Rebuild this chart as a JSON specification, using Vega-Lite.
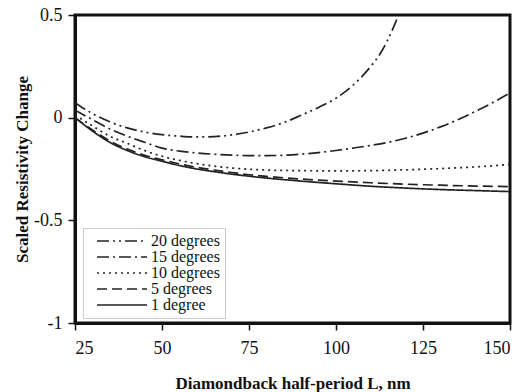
{
  "$schema": "https://vega.github.io/schema/vega-lite/v6.json",
  "width": 435,
  "height": 308,
  "autosize": {"type": "none"},
  "padding": {"left": 75, "top": 15, "right": 15, "bottom": 69},
  "background": "white",
  "config": {
    "view": {"stroke": "#111", "strokeWidth": 3},
    "font": "Liberation Serif"
  },
  "data": {
    "values": [
      {"L": 25, "v": 0.073, "s": "20 degrees"},
      {"L": 30, "v": 0.02, "s": "20 degrees"},
      {"L": 35, "v": -0.02, "s": "20 degrees"},
      {"L": 40, "v": -0.05, "s": "20 degrees"},
      {"L": 45, "v": -0.07, "s": "20 degrees"},
      {"L": 50, "v": -0.083, "s": "20 degrees"},
      {"L": 55, "v": -0.09, "s": "20 degrees"},
      {"L": 60, "v": -0.094, "s": "20 degrees"},
      {"L": 65, "v": -0.092, "s": "20 degrees"},
      {"L": 70, "v": -0.084, "s": "20 degrees"},
      {"L": 75, "v": -0.07, "s": "20 degrees"},
      {"L": 80, "v": -0.05, "s": "20 degrees"},
      {"L": 85, "v": -0.024, "s": "20 degrees"},
      {"L": 90, "v": 0.012, "s": "20 degrees"},
      {"L": 95, "v": 0.05, "s": "20 degrees"},
      {"L": 100, "v": 0.095, "s": "20 degrees"},
      {"L": 105, "v": 0.16, "s": "20 degrees"},
      {"L": 110, "v": 0.25, "s": "20 degrees"},
      {"L": 113, "v": 0.32, "s": "20 degrees"},
      {"L": 116, "v": 0.42, "s": "20 degrees"},
      {"L": 118, "v": 0.5, "s": "20 degrees"},

      {"L": 25, "v": 0.037, "s": "15 degrees"},
      {"L": 30, "v": -0.01, "s": "15 degrees"},
      {"L": 35, "v": -0.055, "s": "15 degrees"},
      {"L": 40, "v": -0.09, "s": "15 degrees"},
      {"L": 45, "v": -0.12, "s": "15 degrees"},
      {"L": 50, "v": -0.148, "s": "15 degrees"},
      {"L": 55, "v": -0.163, "s": "15 degrees"},
      {"L": 60, "v": -0.172, "s": "15 degrees"},
      {"L": 65, "v": -0.178, "s": "15 degrees"},
      {"L": 70, "v": -0.182, "s": "15 degrees"},
      {"L": 75, "v": -0.185, "s": "15 degrees"},
      {"L": 80, "v": -0.185, "s": "15 degrees"},
      {"L": 85, "v": -0.183, "s": "15 degrees"},
      {"L": 90, "v": -0.178, "s": "15 degrees"},
      {"L": 95, "v": -0.17, "s": "15 degrees"},
      {"L": 100, "v": -0.16, "s": "15 degrees"},
      {"L": 105, "v": -0.148, "s": "15 degrees"},
      {"L": 110, "v": -0.135, "s": "15 degrees"},
      {"L": 115, "v": -0.12, "s": "15 degrees"},
      {"L": 120, "v": -0.1, "s": "15 degrees"},
      {"L": 125, "v": -0.075, "s": "15 degrees"},
      {"L": 130, "v": -0.045, "s": "15 degrees"},
      {"L": 135, "v": -0.01, "s": "15 degrees"},
      {"L": 140, "v": 0.03, "s": "15 degrees"},
      {"L": 145, "v": 0.073, "s": "15 degrees"},
      {"L": 150, "v": 0.12, "s": "15 degrees"},

      {"L": 25, "v": 0.013, "s": "10 degrees"},
      {"L": 30, "v": -0.04, "s": "10 degrees"},
      {"L": 35, "v": -0.09, "s": "10 degrees"},
      {"L": 40, "v": -0.125, "s": "10 degrees"},
      {"L": 45, "v": -0.16, "s": "10 degrees"},
      {"L": 50, "v": -0.188, "s": "10 degrees"},
      {"L": 55, "v": -0.208, "s": "10 degrees"},
      {"L": 60, "v": -0.224, "s": "10 degrees"},
      {"L": 65, "v": -0.236, "s": "10 degrees"},
      {"L": 70, "v": -0.245, "s": "10 degrees"},
      {"L": 75, "v": -0.251, "s": "10 degrees"},
      {"L": 80, "v": -0.255, "s": "10 degrees"},
      {"L": 90, "v": -0.258, "s": "10 degrees"},
      {"L": 100, "v": -0.259, "s": "10 degrees"},
      {"L": 110, "v": -0.258, "s": "10 degrees"},
      {"L": 120, "v": -0.254, "s": "10 degrees"},
      {"L": 130, "v": -0.248, "s": "10 degrees"},
      {"L": 140, "v": -0.24, "s": "10 degrees"},
      {"L": 150, "v": -0.228, "s": "10 degrees"},

      {"L": 25, "v": 0.0, "s": "5 degrees"},
      {"L": 30, "v": -0.06, "s": "5 degrees"},
      {"L": 35, "v": -0.113, "s": "5 degrees"},
      {"L": 40, "v": -0.153, "s": "5 degrees"},
      {"L": 45, "v": -0.183, "s": "5 degrees"},
      {"L": 50, "v": -0.205, "s": "5 degrees"},
      {"L": 55, "v": -0.225, "s": "5 degrees"},
      {"L": 60, "v": -0.242, "s": "5 degrees"},
      {"L": 65, "v": -0.255, "s": "5 degrees"},
      {"L": 70, "v": -0.267, "s": "5 degrees"},
      {"L": 75, "v": -0.278, "s": "5 degrees"},
      {"L": 80, "v": -0.286, "s": "5 degrees"},
      {"L": 90, "v": -0.299, "s": "5 degrees"},
      {"L": 100, "v": -0.309, "s": "5 degrees"},
      {"L": 110, "v": -0.317, "s": "5 degrees"},
      {"L": 120, "v": -0.324, "s": "5 degrees"},
      {"L": 130, "v": -0.329, "s": "5 degrees"},
      {"L": 140, "v": -0.333, "s": "5 degrees"},
      {"L": 150, "v": -0.336, "s": "5 degrees"},

      {"L": 25, "v": 0.0, "s": "1 degree"},
      {"L": 30, "v": -0.065, "s": "1 degree"},
      {"L": 35, "v": -0.12, "s": "1 degree"},
      {"L": 40, "v": -0.16, "s": "1 degree"},
      {"L": 45, "v": -0.19, "s": "1 degree"},
      {"L": 50, "v": -0.212, "s": "1 degree"},
      {"L": 55, "v": -0.233, "s": "1 degree"},
      {"L": 60, "v": -0.25, "s": "1 degree"},
      {"L": 65, "v": -0.263, "s": "1 degree"},
      {"L": 70, "v": -0.275, "s": "1 degree"},
      {"L": 75, "v": -0.285, "s": "1 degree"},
      {"L": 80, "v": -0.294, "s": "1 degree"},
      {"L": 90, "v": -0.309, "s": "1 degree"},
      {"L": 100, "v": -0.322, "s": "1 degree"},
      {"L": 110, "v": -0.334, "s": "1 degree"},
      {"L": 120, "v": -0.343, "s": "1 degree"},
      {"L": 130, "v": -0.35, "s": "1 degree"},
      {"L": 140, "v": -0.355, "s": "1 degree"},
      {"L": 150, "v": -0.36, "s": "1 degree"}
    ]
  },
  "mark": {"type": "line", "color": "#222", "strokeWidth": 1.7, "clip": true, "interpolate": "monotone"},
  "encoding": {
    "x": {
      "field": "L", "type": "quantitative",
      "scale": {"domain": [25, 150], "nice": false},
      "axis": {
        "values": [25, 50, 75, 100, 125, 150],
        "title": "Diamondback half-period L, nm",
        "grid": false,
        "domainColor": "#111", "domainWidth": 3,
        "tickColor": "#111", "tickSize": 7, "tickWidth": 1.5,
        "labelFont": "Liberation Serif", "labelFontSize": 18, "labelColor": "#111", "labelPadding": 9,
        "titleFont": "Liberation Serif", "titleFontSize": 17, "titleFontWeight": "bold", "titleColor": "#111",
        "titlePadding": 18
      }
    },
    "y": {
      "field": "v", "type": "quantitative",
      "scale": {"domain": [-1, 0.5], "nice": false},
      "axis": {
        "values": [-1, -0.5, 0, 0.5],
        "labelExpr": "datum.value < 0 ? '-' + format(-datum.value, '~g') : format(datum.value, '~g')",
        "title": "Scaled Resistivity Change",
        "grid": false,
        "domainColor": "#111", "domainWidth": 3,
        "tickColor": "#111", "tickSize": 7, "tickWidth": 1.5,
        "labelFont": "Liberation Serif", "labelFontSize": 18, "labelColor": "#111", "labelPadding": 6,
        "titleFont": "Liberation Serif", "titleFontSize": 17, "titleFontWeight": "bold", "titleColor": "#111",
        "titlePadding": 2
      }
    },
    "strokeDash": {
      "field": "s", "type": "nominal",
      "scale": {
        "domain": ["20 degrees", "15 degrees", "10 degrees", "5 degrees", "1 degree"],
        "range": [[12, 4, 2, 4, 2, 4], [12, 4, 2, 4], [2, 4], [10, 5], [1, 0]]
      },
      "legend": {
        "title": null,
        "orient": "none",
        "legendX": 8,
        "legendY": 213,
        "padding": 5,
        "strokeColor": "#ccc",
        "fillColor": "white",
        "symbolType": "stroke",
        "symbolSize": 2500,
        "symbolOffset": 8,
        "clipHeight": 16,
        "symbolStrokeWidth": 1.6,
        "symbolStrokeColor": "#222",
        "labelFont": "Liberation Serif",
        "labelFontSize": 16,
        "labelColor": "#111",
        "labelOffset": 3,
        "rowPadding": 0
      }
    }
  }
}
